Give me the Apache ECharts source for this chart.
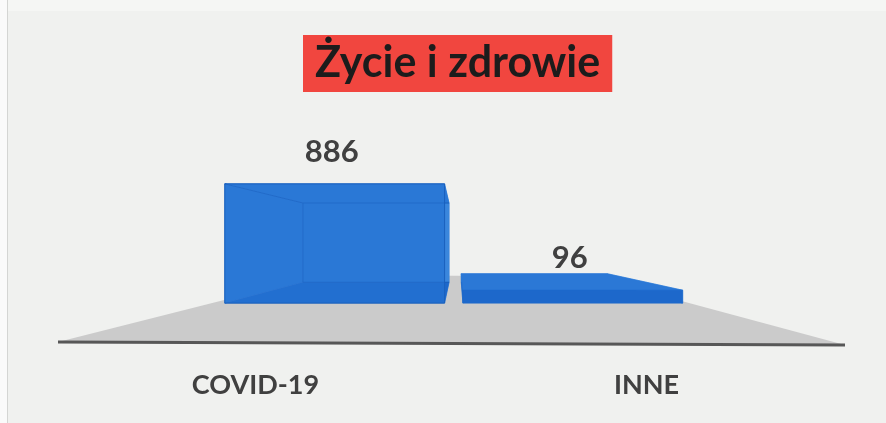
<!DOCTYPE html>
<html>
<head>
<meta charset="utf-8">
<script src="https://cdn.jsdelivr.net/npm/echarts@6/dist/echarts.min.js"></script>
<style>
  html, body { margin: 0; padding: 0; background: #f0f1ef; }
  #chart { width: 886px; height: 423px; }
</style>
</head>
<body>
<div id="chart"></div>
<script>
const categories = ['COVID-19', 'INNE'];
const values = [886, 96];

const chart = echarts.init(document.getElementById('chart'));

// perspective: everything shrinks towards this point
const VANISH = [458, 241];
const T_FRONT = 0.391; // depth of bars' front face
const T_BACK = 0.595;  // depth of bars' back face
const T_FLOOR = 0.66;  // depth of floor back edge

function proj(p, t) {
	return [p[0] + t * (VANISH[0] - p[0]), p[1] + t * (VANISH[1] - p[1])];
}

const blue = '#2b78d6';
const blueDark = '#1d68cb';
const blueSide = '#3a86dc';
const edge = '#1a60bd';

function renderBox(params, api) {
	const cat = api.value(0);
	const val = api.value(1);
	const top = api.coord([cat, val]);
	const base = api.coord([cat, 0]);
	const w = api.size([1, 0])[0] * 0.923;
	const x0 = top[0] - w / 2, x1 = top[0] + w / 2;

	const fbl = proj([x0, base[1]], T_FRONT), fbr = proj([x1, base[1]], T_FRONT);
	const ftl = proj([x0, top[1]], T_FRONT), ftr = proj([x1, top[1]], T_FRONT);
	const bbl = proj([x0, base[1]], T_BACK), bbr = proj([x1, base[1]], T_BACK);
	const btl = proj([x0, top[1]], T_BACK), btr = proj([x1, top[1]], T_BACK);

	const poly = (pts, fill, z) => ({
		type: 'polygon', z2: z || 0,
		shape: { points: pts },
		style: { fill: fill, stroke: fill, lineWidth: 0.5 }
	});
	const line = (a, b) => ({
		type: 'line', z2: 5,
		shape: { x1: a[0], y1: a[1], x2: b[0], y2: b[1] },
		style: { stroke: edge, lineWidth: 1 }
	});

	const lookFromBelow = ftl[1] < VANISH[1];
	const children = [
		poly([bbl, bbr, btr, btl], blue, 1),
		poly([fbl, bbl, btl, ftl], blue, 2),
		poly([fbr, bbr, btr, ftr], blueSide, 2),
		poly([fbl, fbr, bbr, bbl], blueDark, 3),
		poly([ftl, ftr, btr, btl], blue, 4)
	];
	if (lookFromBelow) {
		children.push(line(ftl, btl), line(btl, btr), line(btl, bbl), line(bbl, bbr));
		children.push({
			type: 'polygon', z2: 6,
			shape: { points: [fbl, fbr, ftr, ftl] },
			style: { fill: 'rgba(43,120,214,0.45)', stroke: edge, lineWidth: 1 }
		});
	} else {
		children.push(poly([fbl, fbr, ftr, ftl], blueDark, 6));
	}
	children.push({
		type: 'text', z2: 10,
		x: (ftl[0] + ftr[0]) / 2 - 3,
		y: ftl[1] - 32,
		style: {
			text: String(val),
			font: 'bold 31px Lato',
			fill: '#404040',
			align: 'center',
			verticalAlign: 'middle'
		}
	});
	return { type: 'group', children: children };
}

// floor in the same perspective
const floorFront = [[58, 342], [845, 345]];
const floorPts = [floorFront[0], floorFront[1], proj(floorFront[1], T_FLOOR), proj(floorFront[0], T_FLOOR)];

const option = {
	backgroundColor: '#f0f1ef',
	animation: false,
	title: {
		text: 'Życie i zdrowie',
		left: 303,
		top: 35,
		backgroundColor: '#f1463f',
		padding: [6, 12, 6, 12],
		textStyle: {
			fontFamily: 'Lato',
			fontWeight: 'bold',
			fontSize: 43,
			lineHeight: 45,
			color: '#1c1c1c'
		}
	},
	graphic: [
		{ type: 'rect', z: -10, shape: { x: 0, y: 0, width: 7, height: 423 }, style: { fill: '#fafafa' } },
		{ type: 'line', z: -9, shape: { x1: 7.5, y1: 0, x2: 7.5, y2: 423 }, style: { stroke: '#d4d5d3', lineWidth: 1 } },
		{ type: 'rect', z: -10, shape: { x: 8, y: 0, width: 878, height: 11 }, style: { fill: '#f5f6f4' } },
		{ type: 'polygon', z: -5, shape: { points: floorPts }, style: { fill: '#cbcbcb' } },
		{ type: 'polyline', z: -4, shape: { points: floorFront }, style: { stroke: '#575757', lineWidth: 3 } }
	],
	grid: { left: 60, right: 44, top: 122, bottom: 80 },
	xAxis: {
		type: 'category',
		data: categories,
		axisLine: { show: false },
		axisTick: { show: false },
		axisLabel: {
			margin: 29,
			fontFamily: 'Lato',
			fontWeight: 'bold',
			fontSize: 27,
			color: '#404040'
		}
	},
	yAxis: {
		type: 'value',
		min: 0,
		max: 1000,
		show: false
	},
	series: [{
		type: 'custom',
		renderItem: renderBox,
		data: values.map((v, i) => [i, v])
	}]
};

chart.setOption(option);
</script>
</body>
</html>
